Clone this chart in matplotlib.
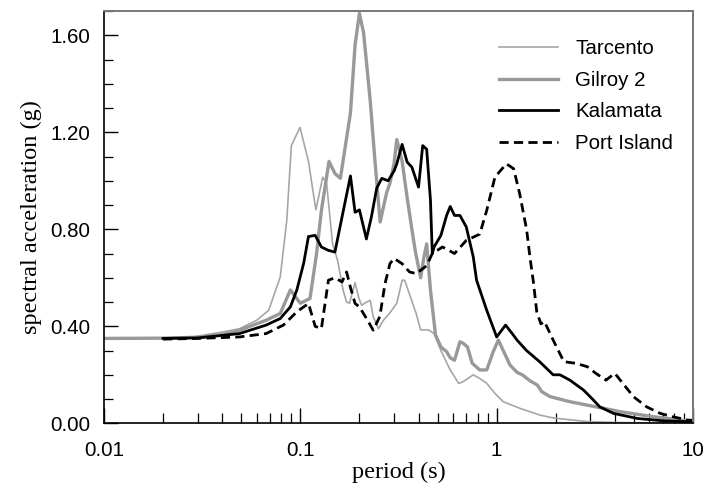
import matplotlib
matplotlib.use("Agg")
import matplotlib.pyplot as plt
from matplotlib.ticker import FixedLocator, MultipleLocator, FuncFormatter, LogLocator, NullFormatter

# ---------------- data ----------------
tarcento_T = [0.01, 0.02, 0.0274, 0.0405, 0.049, 0.06, 0.069, 0.079, 0.0853, 0.09, 0.0996,
              0.11, 0.12, 0.13, 0.136, 0.146, 0.155, 0.165, 0.172, 0.178, 0.19, 0.198,
              0.205, 0.218, 0.227, 0.235, 0.25, 0.265, 0.285, 0.31, 0.33, 0.34, 0.39,
              0.41, 0.45, 0.48, 0.52, 0.58, 0.64, 0.67, 0.76, 0.82, 0.89, 0.98, 1.08,
              1.31, 1.66, 1.94, 2.9, 4.26, 10.0]
tarcento_g = [0.35, 0.351, 0.354, 0.377, 0.39, 0.425, 0.466, 0.603, 0.837, 1.145, 1.22,
              1.08, 0.88, 1.015, 0.99, 0.74, 0.67, 0.55, 0.50, 0.495, 0.58, 0.52,
              0.487, 0.50, 0.507, 0.44, 0.39, 0.425, 0.454, 0.495, 0.59, 0.59, 0.45,
              0.385, 0.385, 0.37, 0.30, 0.22, 0.165, 0.17, 0.20, 0.185, 0.165, 0.123, 0.089,
              0.062, 0.034, 0.022, 0.007, 0.003, 0.0]

gilroy_T = [0.01, 0.02, 0.03, 0.04, 0.049, 0.067, 0.079, 0.089, 0.1, 0.112, 0.121, 0.128,
            0.14, 0.15, 0.16, 0.18, 0.19, 0.2, 0.21, 0.227, 0.24, 0.255, 0.275, 0.286,
            0.3, 0.31, 0.33, 0.35, 0.37, 0.385, 0.41, 0.425, 0.44, 0.46, 0.488, 0.52,
            0.556, 0.58, 0.61, 0.65, 0.675, 0.71, 0.75, 0.82, 0.89, 0.96, 1.02, 1.08,
            1.17, 1.27, 1.35, 1.48, 1.61, 1.70, 1.87, 2.36, 3.2, 4.26, 6.3, 10.0]
gilroy_g = [0.35, 0.351, 0.355, 0.365, 0.384, 0.425, 0.453, 0.55, 0.495, 0.515, 0.70, 0.877,
            1.08, 1.03, 1.01, 1.28, 1.56, 1.69, 1.61, 1.33, 1.08, 0.83, 0.95, 0.99,
            1.07, 1.17, 1.08, 0.93, 0.80, 0.71, 0.60, 0.68, 0.74, 0.55, 0.364, 0.315,
            0.295, 0.27, 0.26, 0.336, 0.33, 0.315, 0.248, 0.22, 0.22, 0.295, 0.343, 0.30,
            0.24, 0.21, 0.20, 0.175, 0.158, 0.13, 0.11, 0.089, 0.068, 0.048, 0.027, 0.007]

kalamata_T = [0.02, 0.03, 0.049, 0.067, 0.079, 0.089, 0.096, 0.104, 0.11, 0.119, 0.128,
              0.139, 0.15, 0.163, 0.18, 0.19, 0.2, 0.217, 0.23, 0.245, 0.26, 0.28, 0.30,
              0.31, 0.33, 0.35, 0.37, 0.40, 0.42, 0.44, 0.46, 0.47, 0.48, 0.52, 0.556,
              0.58, 0.61, 0.65, 0.70, 0.76, 0.79, 0.89, 1.0, 1.11, 1.2, 1.27, 1.42, 1.66,
              1.94, 2.1, 2.36, 2.77, 3.05, 3.35, 3.93, 5.2, 7.1, 10.0]
kalamata_g = [0.35, 0.352, 0.37, 0.405, 0.432, 0.48, 0.55, 0.66, 0.77, 0.775, 0.727,
              0.713, 0.706, 0.85, 1.02, 0.87, 0.88, 0.76, 0.85, 0.97, 1.01, 1.0, 1.04,
              1.07, 1.15, 1.077, 1.056, 0.974, 1.145, 1.13, 0.92, 0.70, 0.727, 0.775, 0.857,
              0.894, 0.857, 0.857, 0.81, 0.686, 0.59, 0.466, 0.356, 0.405, 0.37, 0.343, 0.30, 0.253,
              0.20, 0.20, 0.178, 0.137, 0.103, 0.068, 0.041, 0.02, 0.01, 0.006]

port_T = [0.02, 0.03, 0.049, 0.067, 0.082, 0.096, 0.107, 0.11, 0.119, 0.128, 0.139, 0.15,
          0.163, 0.172, 0.18, 0.19, 0.2, 0.22, 0.235, 0.254, 0.27, 0.286, 0.3, 0.33,
          0.36, 0.39, 0.44, 0.47, 0.53, 0.61, 0.70, 0.82, 0.89, 0.98, 1.12, 1.22, 1.31,
          1.42, 1.48, 1.54, 1.6, 1.68, 1.75, 1.94, 2.2, 2.55, 2.9, 3.2, 3.6, 4.0, 4.26,
          4.97, 5.8, 6.8, 7.9, 9.3, 10.0]
port_g = [0.347, 0.35, 0.356, 0.37, 0.405, 0.46, 0.487, 0.494, 0.40, 0.39, 0.59, 0.60,
          0.583, 0.624, 0.56, 0.494, 0.48, 0.425, 0.384, 0.44, 0.576, 0.658, 0.68, 0.658,
          0.624, 0.617, 0.65, 0.70, 0.727, 0.70, 0.754, 0.78, 0.878, 1.015, 1.07, 1.05, 0.946,
          0.80, 0.68, 0.58, 0.46, 0.41, 0.42, 0.343, 0.254, 0.247, 0.233, 0.206, 0.178, 0.206, 0.178,
          0.11, 0.068, 0.041, 0.027, 0.014, 0.012]

series_names = ["Tarcento", "Gilroy 2", "Kalamata", "Port Island"]
x_tick_vals = [0.01, 0.1, 1, 10]
x_tick_labels = ["0.01", "0.1", "1", "10"]
y_tick_vals = [0.0, 0.4, 0.8, 1.2, 1.6]

# ---------------- figure ----------------
fig = plt.figure(figsize=(7.05, 4.93), dpi=100)
ax = fig.add_axes([104 / 705, 1 - 423.3 / 493, (693 - 104) / 705, (423.3 - 11) / 493])

ax.plot(tarcento_T, tarcento_g, color="#a6a6a6", lw=1.2, label=series_names[0])
ax.plot(gilroy_T, gilroy_g, color="#999999", lw=2.4, label=series_names[1])
ax.plot(kalamata_T, kalamata_g, color="black", lw=2.0, label=series_names[2])
ax.plot(port_T, port_g, color="black", lw=2.0, linestyle=(0, (3.3, 1.9)), label=series_names[3])

ax.set_xscale("log")
ax.set_xlim(0.01, 10)
ax.set_ylim(0, 1.70)

ax.xaxis.set_major_locator(FixedLocator(x_tick_vals))
ax.set_xticklabels(x_tick_labels)
ax.xaxis.set_minor_locator(LogLocator(base=10, subs=range(2, 10)))
ax.xaxis.set_minor_formatter(NullFormatter())

ax.yaxis.set_major_locator(FixedLocator(y_tick_vals))
ax.yaxis.set_major_formatter(FuncFormatter(lambda v, p: f"{v:.2f}"))
ax.yaxis.set_minor_locator(MultipleLocator(0.1))

tick_font = "Liberation Sans"
for lab in ax.get_xticklabels() + ax.get_yticklabels():
    lab.set_fontfamily(tick_font)
    lab.set_fontsize(14.8)

ax.tick_params(axis="x", which="major", direction="in", length=11, width=1, pad=13)
ax.tick_params(axis="x", which="minor", direction="in", length=7, width=0.9)
ax.tick_params(axis="y", which="major", direction="in", length=10, width=1, pad=10)
ax.tick_params(axis="y", which="minor", direction="in", length=6.5, width=0.9)
ax.tick_params(top=False, right=False, which="both")

for s in ["left", "bottom"]:
    ax.spines[s].set_color("black")
    ax.spines[s].set_linewidth(1.2)
for s in ["top", "right"]:
    ax.spines[s].set_color("#777777")
    ax.spines[s].set_linewidth(1.4)

ax.set_xlabel("period (s)", fontfamily="Liberation Serif", fontsize=17.5, labelpad=1)
ax.set_ylabel("spectral acceleration (g)", fontfamily="Liberation Serif", fontsize=17.5, labelpad=6)

leg = ax.legend(loc="upper left", bbox_to_anchor=((499 - 104) / 589, (423.3 - 39) / 412.3),
                frameon=False, prop={"family": "Liberation Sans", "size": 14.8},
                handlelength=2.85, handletextpad=0.85, labelspacing=0.62,
                borderpad=0, borderaxespad=0)

fig.savefig("out.png", dpi=100)
